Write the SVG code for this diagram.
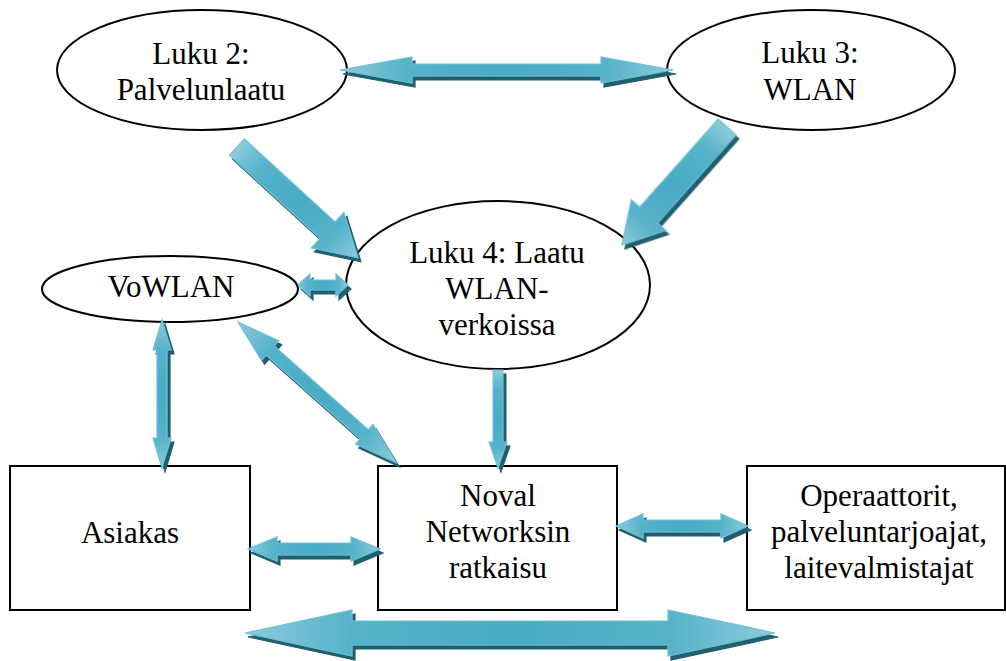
<svg xmlns="http://www.w3.org/2000/svg" width="1006" height="661" viewBox="0 0 1006 661">
<style>
.n{fill:#fff;stroke:#000;stroke-width:2}
.a{fill:url(#g);stroke:#6cc0d5;stroke-width:1.2;stroke-linejoin:miter}
</style>
<defs>
<linearGradient id="g" x1="0" y1="0" x2="1" y2="0">
<stop offset="0" stop-color="#8ecbdb"/>
<stop offset="0.2" stop-color="#55b2ca"/>
<stop offset="0.5" stop-color="#4aabc5"/>
<stop offset="0.8" stop-color="#55b2ca"/>
<stop offset="1" stop-color="#8ecbdb"/>
</linearGradient>
<filter id="sh" x="-5%" y="-5%" width="110%" height="110%">
<feOffset in="SourceAlpha" dx="3" dy="4" result="o"/>
<feFlood flood-color="#215e6d"/>
<feComposite in2="o" operator="in" result="s"/>
<feMerge><feMergeNode in="s"/><feMergeNode in="SourceGraphic"/></feMerge>
</filter>
</defs>
<g font-family="Liberation Serif, serif" font-size="31" text-anchor="middle" fill="#000">
<g id="luku2"><ellipse class="n" cx="202" cy="70" rx="145" ry="60"/><text x="201" y="64">Luku 2:</text><text x="201" y="100">Palvelunlaatu</text></g>
<g id="luku3"><ellipse class="n" cx="811" cy="70" rx="144" ry="60"/><text x="810" y="63">Luku 3:</text><text x="810" y="100">WLAN</text></g>
<g id="luku4"><ellipse class="n" cx="498" cy="285" rx="152" ry="84"/><text x="497" y="263">Luku 4: Laatu</text><text x="497" y="299">WLAN-</text><text x="497" y="335">verkoissa</text></g>
<g id="vowlan"><ellipse class="n" cx="170" cy="289" rx="128" ry="33"/><text x="171" y="297">VoWLAN</text></g>
<g id="asiakas"><rect class="n" x="10" y="466" width="240" height="144"/><text x="130" y="543">Asiakas</text></g>
<g id="noval"><rect class="n" x="378" y="466" width="239" height="144"/><text x="498" y="506">Noval</text><text x="498" y="542">Networksin</text><text x="498" y="578">ratkaisu</text></g>
<g id="operaattorit"><rect class="n" x="747" y="466" width="258" height="144"/><text x="879" y="506">Operaattorit,</text><text x="879" y="542">palveluntarjoajat,</text><text x="879" y="578">laitevalmistajat</text></g>
</g>
<g id="connectors" filter="url(#sh)">
<g transform="translate(340,70)"><path class="a" d="M0,0 L72,-13 L72,-6 L261,-6 L261,-13 L333,0 L261,13 L261,6 L72,6 L72,13 Z"/></g>
<g transform="translate(237,147) rotate(42.5)"><path class="a" d="M0,-11 L123,-11 L123,-24 L164,0 L123,24 L123,11 L0,11 Z"/></g>
<g transform="translate(727,127) rotate(131.7)"><path class="a" d="M0,-12 L118,-12 L118,-23 L158,0 L118,23 L118,12 L0,12 Z"/></g>
<g transform="translate(298,285)"><path class="a" d="M0,0 L12,-11 L12,-5 L38,-5 L38,-11 L50,0 L38,11 L38,5 L12,5 L12,11 Z"/></g>
<g transform="translate(162,320) rotate(90)"><path class="a" d="M0,0 L30,-9 L30,-5 L118,-5 L118,-9 L148,0 L118,9 L118,5 L30,5 L30,9 Z"/></g>
<g transform="translate(238,322) rotate(41.6)"><path class="a" d="M0,0 L43,-13 L43,-6 L169,-6 L169,-13 L212,0 L169,13 L169,6 L43,6 L43,13 Z"/></g>
<g transform="translate(498,370) rotate(90)"><path class="a" d="M0,-5 L72,-5 L72,-9 L98,0 L72,9 L72,5 L0,5 Z"/></g>
<g transform="translate(248,549)"><path class="a" d="M0,0 L29,-12 L29,-6 L103,-6 L103,-12 L132,0 L103,12 L103,6 L29,6 L29,12 Z"/></g>
<g transform="translate(616,526)"><path class="a" d="M0,0 L27,-12 L27,-6 L105,-6 L105,-12 L132,0 L105,12 L105,6 L27,6 L27,12 Z"/></g>
<g transform="translate(245,633)"><path class="a" d="M0,0 L107,-23 L107,-12 L423,-12 L423,-23 L530,0 L423,23 L423,12 L107,12 L107,23 Z"/></g>
</g>
</svg>
